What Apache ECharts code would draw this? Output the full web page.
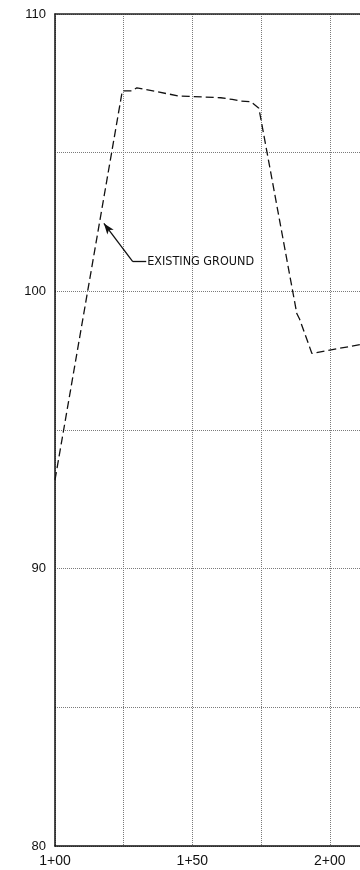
<!DOCTYPE html>
<html>
<head>
<meta charset="utf-8">
<script src="https://cdn.jsdelivr.net/npm/echarts@6/dist/echarts.min.js"></script>
<style>
  html, body { margin: 0; padding: 0; background: #fff; }
  #chart { width: 360px; height: 870px; }
</style>
</head>
<body>
<div id="chart"></div>
<script>
// Profile stations (ft) and existing ground elevations (ft)
const stations = [100, 124.5, 128.1, 129.8, 145.2, 148.8, 160.3, 164.5, 167.5, 171.2, 174.2, 188.0, 189.0, 193.5, 198.9, 211];
const elevations = [93.2, 107.23, 107.23, 107.34, 107.04, 107.03, 106.98, 106.92, 106.86, 106.84, 106.60, 99.2, 99.0, 97.76, 97.86, 98.08];

// Elevation labels shown on the left axis
const elevationTicks = [80, 90, 100, 110];
// Station labels along the bottom
const stationTicks = [100, 150, 200];

// Callout: arrow tip on the ground line, elbow and end of the leader
const calloutText = 'EXISTING GROUND';
const calloutTip = [117.8, 102.45];
const calloutElbow = [128.3, 101.07];
const calloutEnd = [133.2, 101.07];

function stationLabel(v) {
  const hundreds = Math.floor(v / 100);
  const rest = Math.round(v - hundreds * 100);
  return hundreds + '+' + (rest < 10 ? '0' + rest : rest);
}

const groundData = stations.map((s, i) => [s, elevations[i]]);

const chart = echarts.init(document.getElementById('chart'), null, { renderer: 'canvas' });

const gridLine = { show: true, lineStyle: { color: '#7a7a7a', width: 1, type: [1, 1] } };

chart.setOption({
  animation: false,
  backgroundColor: '#ffffff',
  grid: { left: 55, top: 14, right: -2, bottom: 24 },
  xAxis: [
    {
      type: 'value',
      position: 'bottom',
      min: 100,
      max: 211,
      interval: 25,
      axisLine: { show: true, lineStyle: { color: '#111', width: 1.5 } },
      axisTick: { show: false },
      splitLine: gridLine,
      axisLabel: {
        color: '#111',
        fontFamily: 'Liberation Sans, Arial, sans-serif',
        fontSize: 14,
        margin: 8,
        showMaxLabel: false,
        formatter: v => (stationTicks.indexOf(v) >= 0 ? stationLabel(v) : '')
      }
    },
    {
      type: 'value',
      position: 'top',
      min: 100,
      max: 211,
      axisLine: { show: true, onZero: false, lineStyle: { color: '#222', width: 1.5 } },
      axisTick: { show: false },
      axisLabel: { show: false },
      splitLine: { show: false }
    }
  ],
  yAxis: {
    type: 'value',
    min: 80,
    max: 110,
    interval: 5,
    axisLine: { show: true, lineStyle: { color: '#111', width: 1.5 } },
    axisTick: { show: false },
    splitLine: gridLine,
    axisLabel: {
      color: '#111',
      fontFamily: 'Liberation Sans, Arial, sans-serif',
      fontSize: 13,
      margin: 9,
      formatter: v => (elevationTicks.indexOf(v) >= 0 ? String(v) : '')
    }
  },
  series: [
    {
      type: 'line',
      name: 'Existing ground',
      data: groundData,
      showSymbol: false,
      symbol: 'none',
      lineStyle: { color: '#111', width: 1.3, type: [8, 4] },
      markLine: {
        silent: true,
        symbol: ['none', 'none'],
        lineStyle: { color: '#111', width: 1.3, type: 'solid' },
        label: { show: false },
        data: [
          [
            { coord: calloutElbow, symbol: 'none' },
            { coord: calloutTip, symbol: 'arrow', symbolSize: [6, 11] }
          ],
          [
            { coord: calloutElbow, symbol: 'none' },
            {
              coord: calloutEnd,
              symbol: 'none',
              label: {
                show: true,
                position: 'end',
                distance: 1,
                formatter: calloutText,
                color: '#111',
                fontFamily: 'Liberation Sans Narrow, DejaVu Sans Condensed, Arial, sans-serif',
                fontSize: 12.5
              }
            }
          ]
        ]
      }
    }
  ]
});
</script>
</body>
</html>
